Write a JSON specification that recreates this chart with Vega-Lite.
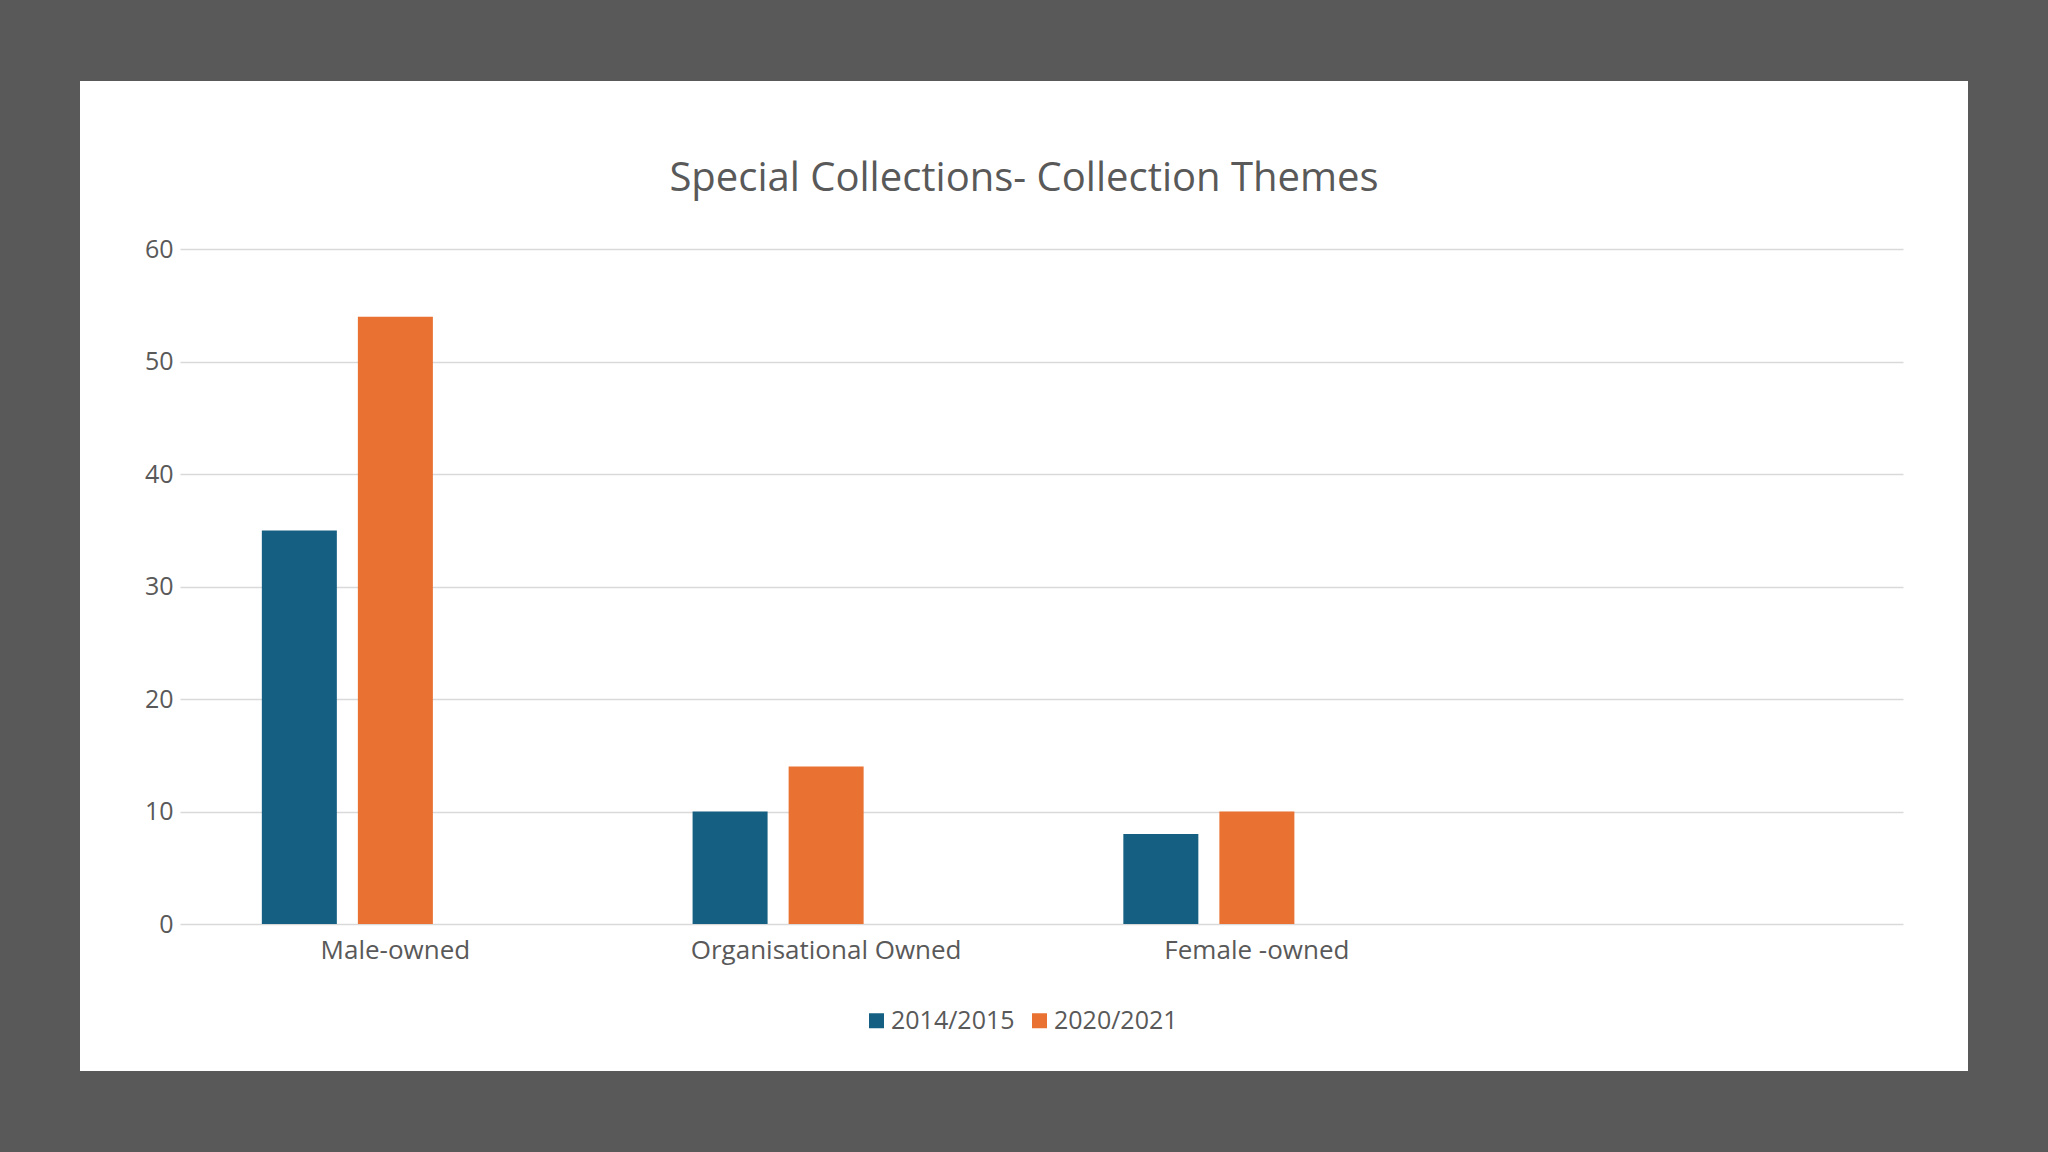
{
  "$schema": "https://vega.github.io/schema/vega-lite/v6.json",
  "width": 1888,
  "height": 990,
  "autosize": {"type": "none"},
  "padding": {"left": 80, "top": 81, "right": 80, "bottom": 81},
  "background": "#595959",
  "view": {"fill": "#ffffff", "stroke": null},
  "title": {
    "text": "Special Collections- Collection Themes",
    "anchor": "middle",
    "frame": "group",
    "baseline": "alphabetic",
    "offset": -150,
    "font": "Open Sans",
    "fontSize": 40,
    "fontWeight": "normal",
    "color": "#595959"
  },
  "data": {
    "values": [
      {"theme": "Male-owned", "period": "2014/2015", "count": 35},
      {"theme": "Male-owned", "period": "2020/2021", "count": 54},
      {"theme": "Organisational Owned", "period": "2014/2015", "count": 10},
      {"theme": "Organisational Owned", "period": "2020/2021", "count": 14},
      {"theme": "Female -owned", "period": "2014/2015", "count": 8},
      {"theme": "Female -owned", "period": "2020/2021", "count": 10}
    ]
  },
  "mark": {"type": "bar"},
  "encoding": {
    "x": {
      "field": "theme",
      "type": "nominal",
      "sort": null,
      "scale": {
        "domain": ["Male-owned", "Organisational Owned", "Female -owned", " "],
        "range": [100, 1823],
        "paddingInner": 0.38,
        "paddingOuter": 0.19
      },
      "axis": {
        "title": null,
        "orient": "bottom",
        "offset": -147,
        "domain": false,
        "ticks": false,
        "grid": false,
        "labelAngle": 0,
        "labelLimit": 0,
        "labelPadding": 13,
        "labelFont": "Open Sans",
        "labelFontSize": 26,
        "labelColor": "#595959"
      }
    },
    "xOffset": {
      "field": "period",
      "type": "nominal",
      "scale": {
        "domain": ["2014/2015", "2020/2021", "spare"],
        "paddingInner": 0.219,
        "paddingOuter": 0
      }
    },
    "y": {
      "field": "count",
      "type": "quantitative",
      "scale": {"domain": [0, 60], "range": [843, 168.3], "nice": false},
      "axis": {
        "title": null,
        "orient": "left",
        "offset": -100,
        "values": [0, 10, 20, 30, 40, 50, 60],
        "domain": false,
        "ticks": false,
        "grid": true,
        "gridColor": "#D9D9D9",
        "gridWidth": 1.5,
        "labelPadding": 7,
        "labelFont": "Open Sans",
        "labelFontSize": 25,
        "labelColor": "#595959"
      }
    },
    "color": {
      "field": "period",
      "type": "nominal",
      "scale": {"domain": ["2014/2015", "2020/2021"], "range": ["#156082", "#E97132"]},
      "legend": {
        "title": null,
        "orient": "none",
        "direction": "horizontal",
        "legendX": 784,
        "legendY": 927,
        "padding": 0,
        "symbolType": "square",
        "symbolSize": 225,
        "symbolStrokeWidth": 0,
        "labelOffset": 2,
        "columnPadding": 12,
        "labelFont": "Open Sans",
        "labelFontSize": 25,
        "labelColor": "#595959"
      }
    }
  }
}
